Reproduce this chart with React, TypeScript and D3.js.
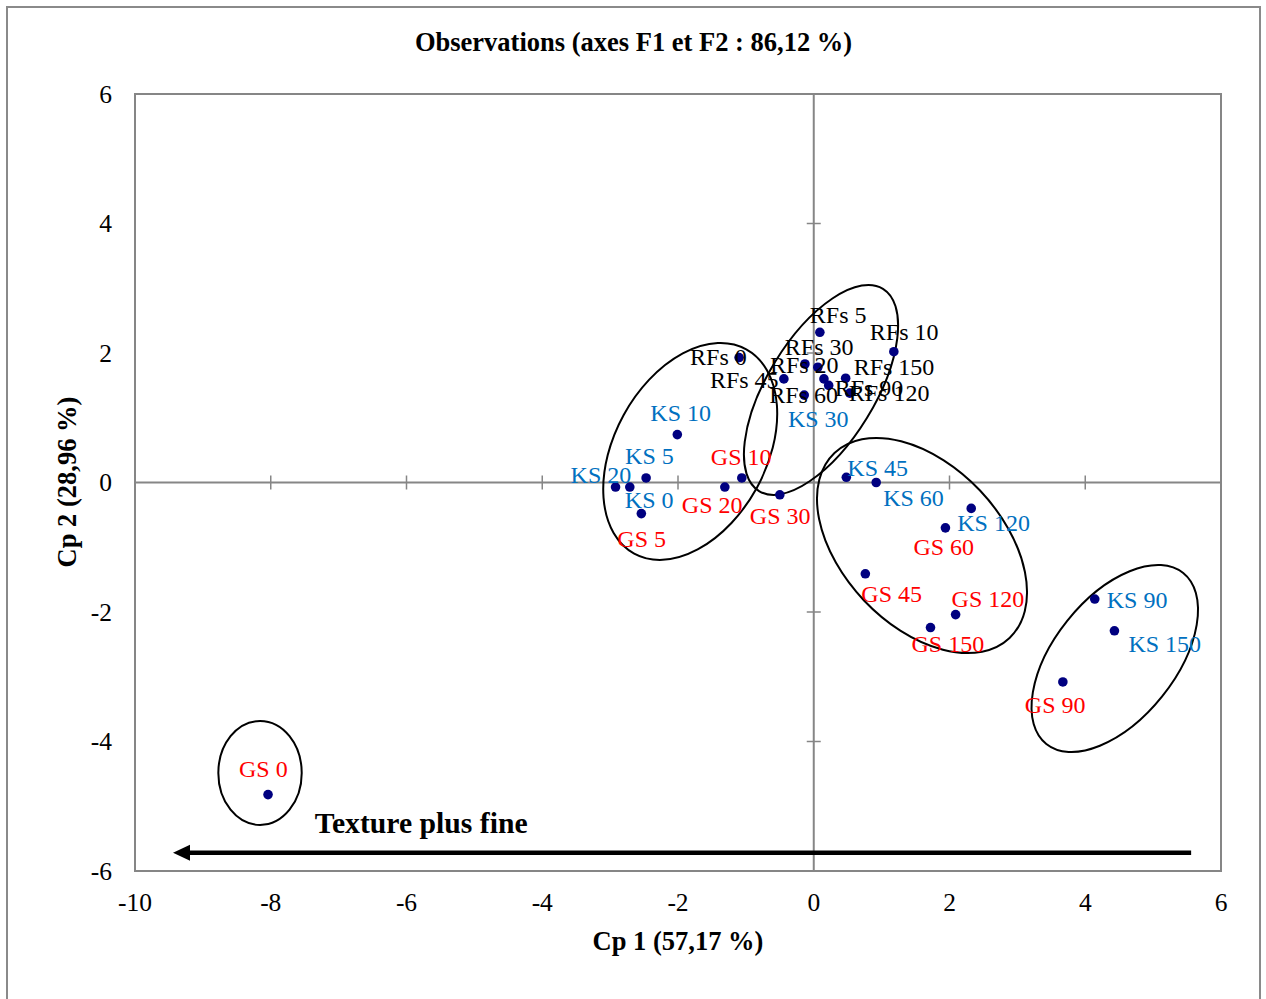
import React from "react";
import * as d3 from "d3";

// ---- Data ----
const obsNames = [
  "GS 0", "GS 5", "GS 10", "GS 20", "GS 30", "GS 45", "GS 60", "GS 90", "GS 120", "GS 150",
  "KS 0", "KS 5", "KS 10", "KS 20", "KS 30", "KS 45", "KS 60", "KS 90", "KS 120", "KS 150",
  "RFs 0", "RFs 5", "RFs 10", "RFs 20", "RFs 30", "RFs 45", "RFs 60", "RFs 90", "RFs 120", "RFs 150",
];
const cp1 = [
  -8.04, -2.54, -1.06, -1.31, -0.50, 0.76, 1.94, 3.67, 2.09, 1.72,
  -2.71, -2.47, -2.01, -2.92, 0.15, 0.48, 0.92, 4.14, 2.32, 4.43,
  -1.10, 0.09, 1.18, -0.13, 0.06, -0.44, -0.14, 0.22, 0.53, 0.47,
];
const cp2 = [
  -4.82, -0.48, 0.07, -0.07, -0.19, -1.41, -0.70, -3.08, -2.04, -2.24,
  -0.07, 0.07, 0.74, -0.07, 1.60, 0.08, 0.00, -1.80, -0.40, -2.29,
  1.93, 2.32, 2.02, 1.83, 1.78, 1.60, 1.35, 1.50, 1.38, 1.61,
];
const xTicks = [-10, -8, -6, -4, -2, 0, 2, 4, 6];
const yTicks = [-6, -4, -2, 0, 2, 4, 6];

// Label placement offsets (px, relative to point)
const labelDx = [
  -29, -24, -31, -43, -30, -4, -32, -38, -4, -19,
  -5, -21, -27, -45, -36, 1, 7, 12, -14, 14,
  -49, -10, -24, -35, -33, -74, -35, 6, -1, 8,
];
const labelDy = [
  -18, 33, -13, 26, 29, 28, 27, 31, -8, 24,
  21, -14, -14, -4, 48, -1, 23, 9, 23, 21,
  7, -9, -12, 9, -12, 9, 8, 11, 8, -3,
];

// Group ellipses: centre in data units, semi-axes in px, rotation in degrees
const ellipseCx = [-8.158, -1.82, 0.107, 1.595, 4.435];
const ellipseCy = [-4.486, 0.48, 1.43, -0.973, -2.718];
const ellipseA = [41.7, 116.5, 118.6, 127.3, 109.5];
const ellipseB = [52, 75.9, 53.8, 79.9, 60.7];
const ellipseRot = [0, -61.25, -58.5, 46.55, -51.3];

const arrowFrom = [5.56, -5.72];
const arrowTo = [-9.44, -5.72];
const annotation = { text: "Texture plus fine", x: -7.35, y: -5.41 };

const FONT = "'Liberation Serif', 'Times New Roman', serif";

function colorOf(name: string) {
  if (name.startsWith("GS")) return "#FF0000";
  if (name.startsWith("KS")) return "#0070C0";
  return "#000000";
}

export default function App() {
  const W = 1266, H = 999;
  const x = d3.scaleLinear().domain([-10, 6]).range([135, 1221]);
  const y = d3.scaleLinear().domain([-6, 6]).range([871, 94]);
  const axisGray = "#868686";

  const ax0 = x(arrowFrom[0]), ay = y(arrowFrom[1]);
  const tipX = x(arrowTo[0]);

  return (
    <svg width={W} height={H} style={{ position: "absolute", left: 0, top: 0, display: "block" }}
      fontFamily={FONT}>
      <rect x={0} y={0} width={W} height={H} fill="#fff" />
      <rect x={7} y={7} width={1253} height={1010} fill="#fff" stroke="#8a8a8a" strokeWidth={2} />
      {/* plot area */}
      <rect x={x(-10)} y={y(6)} width={x(6) - x(-10)} height={y(-6) - y(6)} fill="none" stroke={axisGray} strokeWidth={2} />
      {/* axes through origin */}
      <line x1={x(-10)} x2={x(6)} y1={y(0)} y2={y(0)} stroke={axisGray} strokeWidth={2} />
      <line x1={x(0)} x2={x(0)} y1={y(-6)} y2={y(6)} stroke={axisGray} strokeWidth={2} />
      {xTicks.map((t) => (
        <line key={"xt" + t} x1={x(t)} x2={x(t)} y1={y(0) - 7} y2={y(0) + 7} stroke={axisGray} strokeWidth={1.5} />
      ))}
      {yTicks.map((t) => (
        <line key={"yt" + t} x1={x(0) - 7} x2={x(0) + 7} y1={y(t)} y2={y(t)} stroke={axisGray} strokeWidth={1.5} />
      ))}
      {/* tick labels */}
      {xTicks.map((t) => (
        <text key={"xl" + t} x={x(t)} y={911} textAnchor="middle" fontSize={25.5} fill="#000">{t}</text>
      ))}
      {yTicks.map((t) => (
        <text key={"yl" + t} x={112} y={y(t) + 8.5} textAnchor="end" fontSize={25.5} fill="#000">{t}</text>
      ))}
      {/* titles */}
      <text x={633.5} y={51} textAnchor="middle" fontSize={26.5} fontWeight="bold">Observations (axes F1 et F2 : 86,12 %)</text>
      <text x={678} y={950} textAnchor="middle" fontSize={26.5} fontWeight="bold">Cp 1 (57,17 %)</text>
      <text transform={`translate(76,482) rotate(-90)`} textAnchor="middle" fontSize={26.5} fontWeight="bold">Cp 2 (28,96 %)</text>
      {/* ellipses */}
      {ellipseCx.map((cx, i) => (
        <ellipse key={"el" + i} cx={0} cy={0} rx={ellipseA[i]} ry={ellipseB[i]}
          transform={`translate(${x(cx)},${y(ellipseCy[i])}) rotate(${ellipseRot[i]})`}
          fill="none" stroke="#000" strokeWidth={2} />
      ))}
      {/* points */}
      {obsNames.map((n, i) => (
        <circle key={"p" + n} cx={x(cp1[i])} cy={y(cp2[i])} r={4.8} fill="#000080" />
      ))}
      {obsNames.map((n, i) => (
        <text key={"l" + n} x={x(cp1[i]) + labelDx[i]} y={y(cp2[i]) + labelDy[i]} fontSize={24} fill={colorOf(n)}>{n}</text>
      ))}
      {/* arrow */}
      <line x1={ax0} x2={tipX + 12} y1={ay} y2={ay} stroke="#000" strokeWidth={4.5} />
      <polygon points={`${tipX},${ay} ${tipX + 17},${ay - 8} ${tipX + 17},${ay + 8}`} fill="#000" />
      <text x={x(annotation.x)} y={y(annotation.y)} fontSize={29.7} fontWeight="bold">{annotation.text}</text>
    </svg>
  );
}
